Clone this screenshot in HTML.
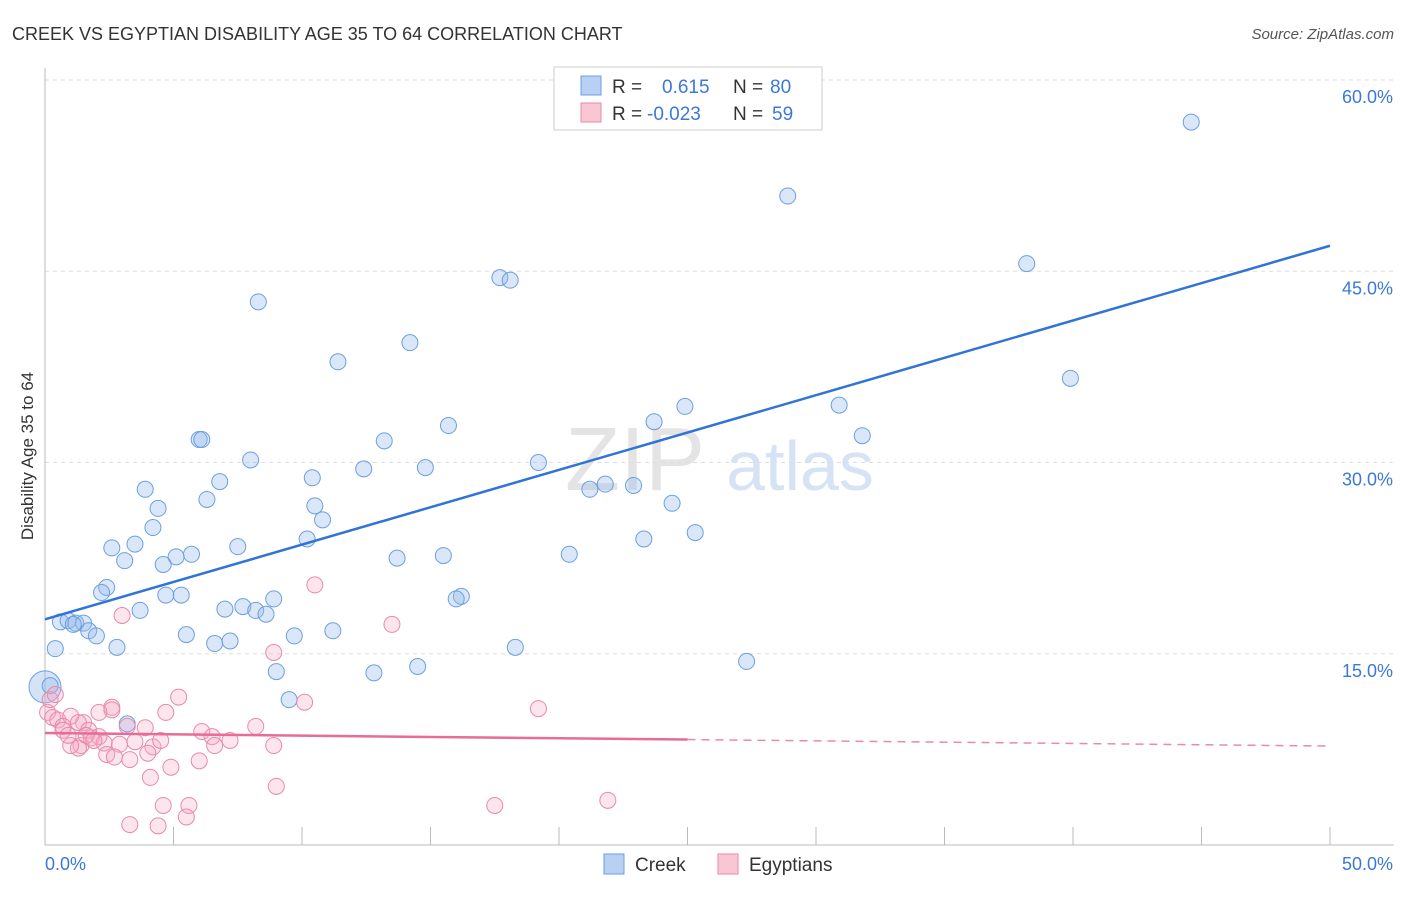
<!DOCTYPE html>
<html><head><meta charset="utf-8"><style>
body{margin:0;background:#fff;font-family:"Liberation Sans",sans-serif;}
svg text{font-family:"Liberation Sans",sans-serif;}
</style></head><body>
<svg id="chart" width="1406" height="892" viewBox="0 0 1406 892" xmlns="http://www.w3.org/2000/svg">
<text x="12" y="40" font-size="18" fill="#333">CREEK VS EGYPTIAN DISABILITY AGE 35 TO 64 CORRELATION CHART</text>
<text x="1394" y="39" font-size="15" fill="#555" font-style="italic" text-anchor="end">Source: ZipAtlas.com</text>
<text x="635" y="490" font-size="90" fill="#e4e4e4" font-family="Liberation Serif" text-anchor="middle">ZIP</text>
<text x="800" y="490" font-size="70" fill="#d6e3f5" text-anchor="middle">atlas</text>
<text transform="translate(33,456) rotate(-90)" font-size="17" fill="#333" text-anchor="middle">Disability Age 35 to 64</text>
<g id="grid"></g><g id="axes"></g><g id="pts"></g><g id="lines"></g>
<g>
<rect x="554" y="67" width="268" height="63" fill="#fff" stroke="#ccc"/>
<rect x="581" y="76" width="20" height="19" fill="#b7d0f3" stroke="#6c9fe0"/>
<rect x="581" y="103" width="20" height="19" fill="#f9c6d4" stroke="#e88aa8"/>
<text x="612" y="93" font-size="19" fill="#333">R =</text><text x="662" y="93" font-size="19" fill="#3b78d8">0.615</text>
<text x="733" y="93" font-size="19" fill="#333">N =</text><text x="770" y="93" font-size="19" fill="#3b78d8">80</text>
<text x="612" y="120" font-size="19" fill="#333">R =</text><text x="647" y="120" font-size="19" fill="#3b78d8">-0.023</text>
<text x="733" y="120" font-size="19" fill="#333">N =</text><text x="772" y="120" font-size="19" fill="#3b78d8">59</text>
</g>
<g>
<rect x="604" y="854" width="20" height="20" fill="#b7d0f3" stroke="#6c9fe0"/>
<text x="635" y="871" font-size="19" fill="#333">Creek</text>
<rect x="718" y="854" width="20" height="20" fill="#f9c6d4" stroke="#e88aa8"/>
<text x="749" y="871" font-size="19" fill="#333">Egyptians</text>
</g>
</svg>
<script>
const yTicks=[15,30,45,60];
const yTickLabels=["15.0%","30.0%","45.0%","60.0%"];
const xTickVals=[0,5,10,15,20,25,30,35,40,45,50];
const xEndLabels=["0.0%","50.0%"];
const creekX=[44.6,28.9,38.2,39.9,17.7,18.1,8.3,14.2,11.4,30.9,24.9,31.8,23.7,15.7,6.0,6.1,13.2,8.0,12.4,14.8,19.2,10.4,6.8,3.9,6.3,21.2,21.8,22.9,24.4,10.5,4.4,10.8,4.2,25.3,23.3,10.2,2.6,3.5,7.5,5.7,15.5,20.4,5.1,4.6,13.7,3.1,2.4,2.2,4.7,5.3,3.7,7.7,7.0,8.2,8.6,8.9,16.2,16.0,0.6,0.9,1.2,1.5,1.7,2.0,5.5,9.7,11.2,6.6,7.2,2.8,0.4,18.3,27.3,14.5,12.8,9.0,9.5,3.2,1.1,0.2];
const creekY=[56.7,50.9,45.6,36.6,44.5,44.3,42.6,39.4,37.9,34.5,34.4,32.1,33.2,32.9,31.8,31.8,31.7,30.2,29.5,29.6,30.0,28.8,28.5,27.9,27.1,27.9,28.3,28.2,26.8,26.6,26.4,25.5,24.9,24.5,24.0,24.0,23.3,23.6,23.4,22.8,22.7,22.8,22.6,22.0,22.5,22.3,20.2,19.8,19.6,19.6,18.4,18.7,18.5,18.4,18.1,19.3,19.5,19.3,17.5,17.6,17.4,17.4,16.8,16.4,16.5,16.4,16.8,15.8,16.0,15.5,15.4,15.5,14.4,14.0,13.5,13.6,11.4,9.5,17.3,12.5];
const egyX=[10.5,13.5,3.0,8.9,5.2,10.1,19.2,2.6,2.6,4.7,2.1,0.1,0.3,0.5,1.0,1.5,1.3,0.7,1.7,2.1,1.8,3.2,3.9,6.1,6.5,7.2,8.2,2.9,2.3,1.4,1.3,1.0,4.2,3.5,4.5,6.6,8.9,2.4,2.7,3.3,4.0,4.9,6.0,4.1,9.0,4.6,5.6,5.5,3.3,4.4,17.5,21.9,0.2,0.4,0.7,1.6,1.9,0.9];
const egyY=[20.4,17.3,18.0,15.1,11.6,11.2,10.7,10.8,10.6,10.4,10.4,10.4,10.0,9.8,10.1,9.6,9.6,9.3,9.0,8.5,8.4,9.3,9.2,8.9,8.5,8.2,9.3,7.9,8.0,7.8,7.6,7.8,7.7,8.1,8.2,7.8,7.8,7.1,6.9,6.7,7.2,6.1,6.6,5.3,4.6,3.1,3.1,2.2,1.6,1.5,3.1,3.5,11.4,11.8,9.0,8.6,8.2,8.6];
const creekTrend=[17.7,47.0];
const egyTrend=[8.78,7.76];
const egySolidEnd=25;
const bigPoint=[0,12.4];

const NS="http://www.w3.org/2000/svg";
const X=v=>45+v*25.7, Y=v=>845-v*12.75;
function mk(tag,attrs,parent){const e=document.createElementNS(NS,tag);for(const k in attrs)e.setAttribute(k,attrs[k]);document.getElementById(parent).appendChild(e);return e;}
yTicks.forEach((t,i)=>{
 const g=mk('line',{x1:45,x2:1394,y1:Y(t),y2:Y(t),stroke:'#ddd','stroke-dasharray':'4,4'},'grid');
 
 
 const l=mk('text',{x:1393,y:Y(t)+23,'font-size':18,fill:'#3b78d8','text-anchor':'end'},'grid');
 l.textContent=yTickLabels[i];
 
 
});
const ax=mk('line',{x1:45,x2:45,y1:68,y2:845,stroke:'#bbb'},'axes');


const bx=mk('line',{x1:45,x2:1394,y1:845,y2:845,stroke:'#bbb'},'axes');


xTickVals.forEach(v=>{
 const t=mk('line',{x1:X(v),x2:X(v),y1:827,y2:845,stroke:'#bbb'},'axes');
 
 
});
const xl0=mk('text',{x:45,y:870,'font-size':18,fill:'#3b78d8'},'axes');xl0.textContent=xEndLabels[0];


const xl1=mk('text',{x:1393,y:870,'font-size':18,fill:'#3b78d8','text-anchor':'end'},'axes');xl1.textContent=xEndLabels[1];


const bp=mk('circle',{cx:X(bigPoint[0]),cy:Y(bigPoint[1]),r:16,fill:'rgba(150,185,235,0.4)',stroke:'#6c9fe0'},'pts');


creekX.forEach((x,i)=>{
 const c=mk('circle',{cx:X(x),cy:Y(creekY[i]),r:8,fill:'rgba(150,185,235,0.35)',stroke:'#6c9fe0','stroke-width':1},'pts');
 
 
});
egyX.forEach((x,i)=>{
 const c=mk('circle',{cx:X(x),cy:Y(egyY[i]),r:8,fill:'rgba(245,170,195,0.3)',stroke:'#e88aa8','stroke-width':1},'pts');
 
 
});
const cl=mk('line',{x1:X(0),y1:Y(creekTrend[0]),x2:X(50),y2:Y(creekTrend[1]),stroke:'#2f74d6','stroke-width':2.5},'lines');


const eAt=v=>egyTrend[0]+(egyTrend[1]-egyTrend[0])*v/50;
const el1=mk('line',{x1:X(0),y1:Y(eAt(0)),x2:X(egySolidEnd),y2:Y(eAt(egySolidEnd)),stroke:'#e86b98','stroke-width':2.5},'lines');


const el2=mk('line',{x1:X(egySolidEnd),y1:Y(eAt(egySolidEnd)),x2:X(50),y2:Y(eAt(50)),stroke:'#e88aa8','stroke-width':1.5,'stroke-dasharray':'8,6'},'lines');


</script>
</body></html>
